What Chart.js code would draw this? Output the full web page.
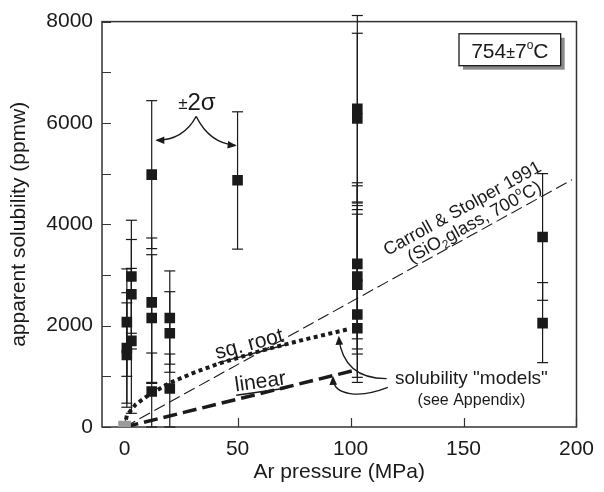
<!DOCTYPE html>
<html>
<head>
<meta charset="utf-8">
<script src="https://cdn.jsdelivr.net/npm/chart.js@4.4.1/dist/chart.umd.min.js"></script>
<style>
  html, body { margin: 0; padding: 0; background: #fff; }
</style>
</head>
<body>
<canvas id="solubilityChart" width="604" height="492"></canvas>
<script>
'use strict';

// Ar pressure (MPa) of each run and its apparent solubility (ppmw)
var pressure   = [1, 1, 1, 3, 3, 3, 12, 12, 12, 12, 20, 20, 20, 50, 103, 103, 103, 103, 103, 103, 103, 185, 185];
var solubility = [2070, 1560, 1420, 2970, 2620, 1700, 4980, 2460, 2150, 700, 2150, 1850, 760, 4870, 6280, 6090, 3220, 2970, 2810, 2220, 1950, 3750, 2050];
// +-2 sigma limits of each run
var errLow  = [1000, 470, 390, 1850, 1540, 270, 3520, 880, 860, 0, 1240, 1080, 0, 3510, 4440, 4420, 1740, 1540, 1440, 980, 880, 2500, 1270];
var errHigh = [3120, 2650, 2450, 4080, 3700, 3130, 6440, 3730, 3400, 1460, 3080, 2670, 1440, 6220, 8120, 7770, 4820, 4760, 4370, 4290, 4200, 5000, 2850];

// reference line and the two solubility models
var carrollP = [0, 198];
var carrollS = [0, 4880];
var sqrtP = [0, 1, 5, 11, 20, 30, 41, 60, 80, 99];
var sqrtS = [0, 230, 450, 640, 870, 1060, 1240, 1500, 1730, 1930];
var linearP = [0, 101];
var linearS = [0, 1110];

var xTicks = [0, 50, 100, 150, 200];
var yTicks = [0, 2000, 4000, 6000, 8000];
var yMinor = [1000, 3000, 5000, 7000];

var ink = '#1a1a1a';
var family = '"Liberation Sans", Arial, sans-serif';

function zip(xs, ys) {
  return xs.map(function(x, i) { return {x: x, y: ys[i]}; });
}

var datasets = [];

// error bars: a two point line per run, with flat caps
pressure.forEach(function(p, i) {
  datasets.push({
    data: [{x: p, y: errLow[i]}, {x: p, y: errHigh[i]}],
    showLine: true,
    borderColor: ink,
    borderWidth: 1.2,
    pointStyle: 'line',
    pointRadius: 5.5,
    pointBorderColor: ink,
    pointBorderWidth: 1.2,
    clip: false,
    order: 5
  });
});

datasets.push({
  data: zip(carrollP, carrollS),
  showLine: true, borderColor: ink, borderWidth: 1.1, borderDash: [12, 5],
  pointRadius: 0, order: 4
});
datasets.push({
  data: zip(sqrtP, sqrtS),
  showLine: true, borderColor: ink, borderWidth: 4, borderDash: [4, 3.5],
  borderCapStyle: 'butt', pointRadius: 0, order: 3
});
datasets.push({
  data: zip(linearP, linearS),
  showLine: true, borderColor: ink, borderWidth: 3.5, borderDash: [14, 6],
  pointRadius: 0, order: 3
});
datasets.push({
  data: [{x: 0, y: 0}],
  pointStyle: 'rect', pointRadius: 9, backgroundColor: '#9b9b9b', borderWidth: 0, order: 2
});
datasets.push({
  data: zip(pressure, solubility),
  pointStyle: 'rect', pointRadius: 7.5, backgroundColor: ink, borderWidth: 0, order: 1
});

// frame and inward tick marks
var frame = {
  id: 'frame',
  beforeDatasetsDraw: function(chart) {
    var ctx = chart.ctx, a = chart.chartArea, xs = chart.scales.x, ys = chart.scales.y;
    ctx.save();
    ctx.strokeStyle = '#333';
    ctx.lineWidth = 1.5;
    ctx.strokeRect(a.left, a.top, a.right - a.left, a.bottom - a.top);
    ctx.lineWidth = 1.2;
    ctx.beginPath();
    yTicks.concat(yMinor).forEach(function(v) {
      var y = Math.round(ys.getPixelForValue(v)) + 0.5;
      ctx.moveTo(a.left, y);
      ctx.lineTo(a.left + 9, y);
    });
    xTicks.forEach(function(v) {
      var x = Math.round(xs.getPixelForValue(v)) + 0.5;
      ctx.moveTo(x, a.bottom);
      ctx.lineTo(x, a.bottom - 9);
    });
    ctx.stroke();
    ctx.restore();
  }
};

var notes = {
  id: 'notes',
  afterDraw: function(chart) {
    var ctx = chart.ctx, xs = chart.scales.x, ys = chart.scales.y;
    function px(v) { return xs.getPixelForValue(v); }
    function py(v) { return ys.getPixelForValue(v); }

    function head(x, y, fx, fy) {
      var ang = Math.atan2(y - fy, x - fx), L = 9, W = 3.8;
      ctx.beginPath();
      ctx.moveTo(x, y);
      ctx.lineTo(x - L * Math.cos(ang) + W * Math.sin(ang), y - L * Math.sin(ang) - W * Math.cos(ang));
      ctx.lineTo(x - L * Math.cos(ang) - W * Math.sin(ang), y - L * Math.sin(ang) + W * Math.cos(ang));
      ctx.closePath();
      ctx.fill();
    }

    // pieces: [text, size, dy]; drawn centred on (x, y), rotated by ang
    function pieces(list, x, y, ang, underline) {
      ctx.save();
      ctx.translate(x, y);
      ctx.rotate(ang || 0);
      ctx.textBaseline = 'alphabetic';
      ctx.textAlign = 'left';
      var total = 0, big = 0;
      list.forEach(function(p) {
        ctx.font = p[1] + 'px ' + family;
        p.w = ctx.measureText(p[0]).width;
        total += p.w;
        big = Math.max(big, p[1]);
      });
      var cx = -total / 2, base = big * 0.36;
      list.forEach(function(p) {
        ctx.font = p[1] + 'px ' + family;
        ctx.fillText(p[0], cx, base + (p[2] || 0));
        cx += p.w;
      });
      if (underline) ctx.fillRect(-total / 2, base + 3, total, 1.5);
      ctx.restore();
    }

    ctx.save();
    ctx.fillStyle = ink;
    ctx.strokeStyle = ink;
    ctx.lineWidth = 1.3;

    // +-2 sigma label with its two arrows
    pieces([['\u00b1', 17, -1], ['2\u03c3', 24, 0]], px(32), py(6420), 0);
    var ax = px(31.7), ay = py(6130);
    ctx.beginPath();
    ctx.moveTo(ax, ay);
    ctx.quadraticCurveTo(px(26), py(5660), px(14.3), py(5660));
    ctx.moveTo(ax, ay);
    ctx.quadraticCurveTo(px(37.5), py(5600), px(49), py(5560));
    ctx.stroke();
    head(px(13.6), py(5660), px(26), py(5660));
    head(px(49.6), py(5550), px(37.5), py(5610));

    // temperature box
    var bx = px(148), by = py(7760), bw = px(193) - bx, bh = py(7130) - by;
    ctx.fillStyle = '#8a8a8a';
    ctx.fillRect(bx + 4, by + 4, bw, bh);
    ctx.fillStyle = '#fff';
    ctx.fillRect(bx, by, bw, bh);
    ctx.strokeRect(bx, by, bw, bh);
    ctx.fillStyle = ink;
    pieces([['754', 21, 0], ['\u00b1', 16, 0], ['7', 21, 0], ['o', 12, -9], ['C', 21, 0]], bx + bw / 2, by + bh / 2 + 1, 0);

    // Carroll & Stolper labels along their line
    var ang = Math.atan2(py(carrollS[1]) - py(carrollS[0]), px(carrollP[1]) - px(carrollP[0]));
    var onX = px(157), onY = py(carrollS[1] / carrollP[1] * 157);
    var nx = Math.sin(ang), ny = -Math.cos(ang);
    pieces([['Carroll & Stolper 1991', 18, 0]], onX + nx * 29 - Math.cos(ang) * 4, onY + ny * 29 - Math.sin(ang) * 4, ang);
    pieces([['(SiO', 18, 0], ['2', 12, 4], ['glass, 700', 18, 0], ['o', 11, -8], ['C)', 18, 0]], onX + nx * 11, onY + ny * 11, ang);

    // model labels
    pieces([['sq. root', 21, 0]], px(55), py(1660), -15 * Math.PI / 180, true);
    pieces([['linear', 21, 0]], px(60), py(920), -8 * Math.PI / 180, true);
    pieces([['solubility "models"', 19, 0]], px(153.5), py(980), 0);
    pieces([['(see Appendix)', 16, 0]], px(153.5), py(540), 0);

    // arrows to the model end points
    ctx.beginPath();
    ctx.moveTo(px(116), py(956));
    ctx.quadraticCurveTo(px(97), py(950), px(94.8), py(1760));
    ctx.moveTo(px(116.5), py(780));
    ctx.bezierCurveTo(px(104), py(560), px(92.5), py(620), px(92.2), py(960));
    ctx.stroke();
    head(px(94.8), py(1800), px(95.2), py(1500));
    head(px(92.2), py(1010), px(92.4), py(760));

    ctx.restore();
  }
};

var tickFont = {family: family, size: 21};

new Chart(document.getElementById('solubilityChart').getContext('2d'), {
  type: 'scatter',
  data: {datasets: datasets},
  options: {
    responsive: false,
    animation: false,
    layout: {padding: {left: 0, right: 19, top: 17, bottom: 0}},
    plugins: {legend: {display: false}, tooltip: {enabled: false}},
    scales: {
      x: {
        type: 'linear', min: -10, max: 200,
        afterBuildTicks: function(s) { s.ticks = xTicks.map(function(v) { return {value: v}; }); },
        afterFit: function(s) { s.height = 65; },
        grid: {display: false, drawTicks: false},
        border: {display: false},
        ticks: {color: ink, font: tickFont, padding: 10, maxRotation: 0, autoSkip: false,
          callback: function(v) { return String(v); }},
        title: {display: true, text: 'Ar pressure (MPa)', color: ink, font: tickFont, padding: {top: 0, bottom: 7}}
      },
      y: {
        type: 'linear', min: 0, max: 8000,
        afterBuildTicks: function(s) { s.ticks = yTicks.map(function(v) { return {value: v}; }); },
        afterFit: function(s) { s.width = 102; },
        grid: {display: false, drawTicks: false},
        border: {display: false},
        ticks: {color: ink, font: tickFont, padding: 9, autoSkip: false,
          callback: function(v) { return String(v); }},
        title: {display: true, text: 'apparent solubility (ppmw)', color: ink, font: tickFont, padding: {top: 7, bottom: 0}}
      }
    }
  },
  plugins: [frame, notes]
});
</script>
</body>
</html>
